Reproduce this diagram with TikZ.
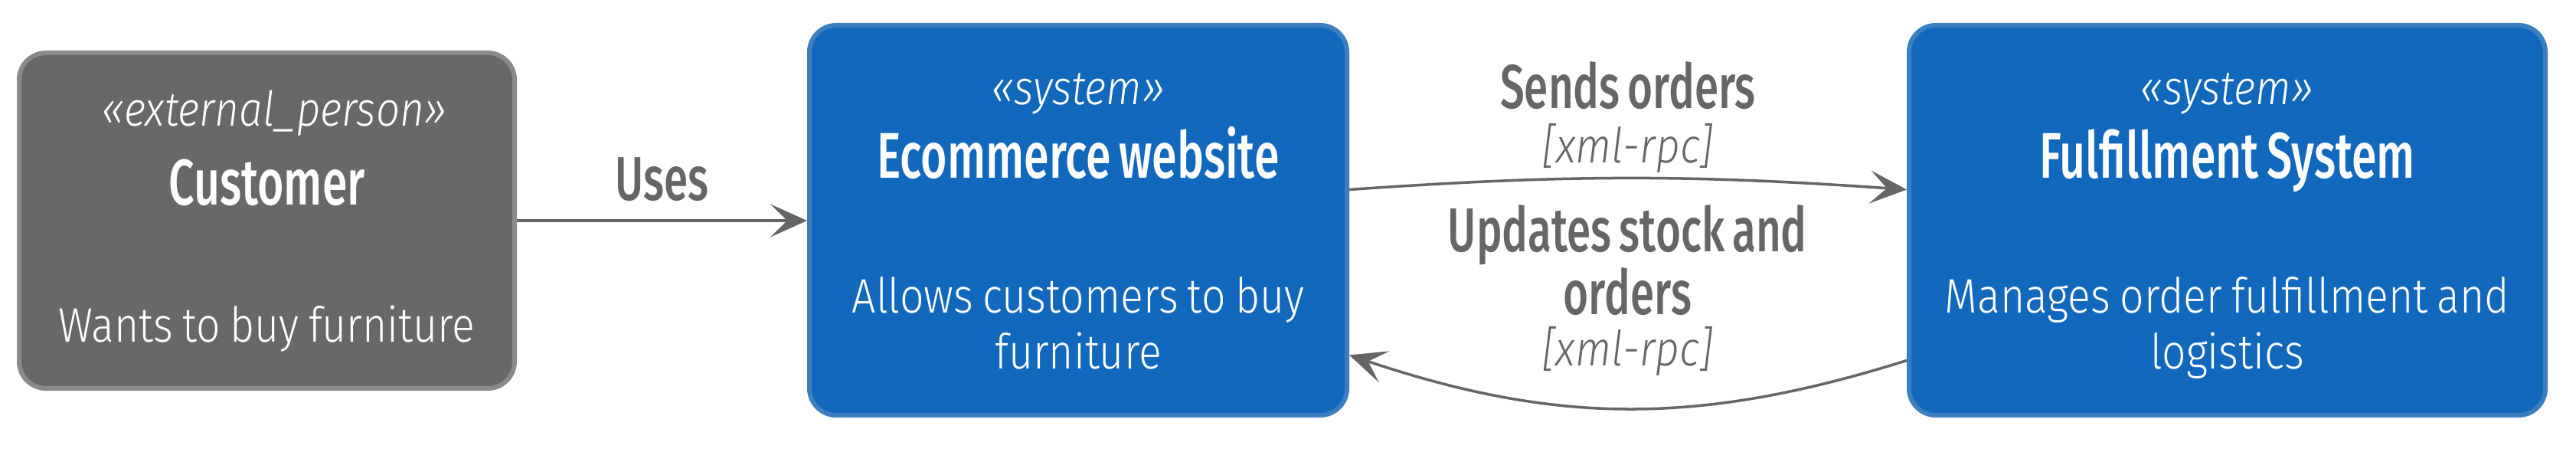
\documentclass[tikz,border=0pt]{standalone}
\usepackage{fontspec}
\setmainfont{Fira Sans}[UprightFont=* Light, ItalicFont=* Light Italic, BoldFont=* Medium, FakeStretch=0.875, WordSpace=0.8]
\newfontfamily\titlefont{Fira Sans}[UprightFont=* Medium, FakeStretch=0.70, WordSpace=0.7]
\usetikzlibrary{arrows.meta,positioning}

\definecolor{personbg}{HTML}{686868}
\definecolor{personline}{HTML}{8A8A8A}
\definecolor{systembg}{HTML}{1168BD}
\definecolor{systemline}{HTML}{3C7FC0}
\definecolor{relgray}{HTML}{666666}

\tikzset{
  personbox/.style={draw=personline, fill=personbg, line width=0.06cm, rounded corners=0.35cm, minimum height=4.38cm},
  systembox/.style={draw=systemline, fill=systembg, line width=0.06cm, rounded corners=0.35cm, minimum height=5.09cm},
  stereo/.style={text=white, anchor=base, inner sep=0pt, font=\fontsize{17.8}{20}\selectfont\itshape},
  boxtitle/.style={text=white, anchor=base, inner sep=0pt, font=\titlefont\fontsize{24}{28}\selectfont},
  boxdesc/.style={text=white, anchor=base, inner sep=0pt, text width=8cm, align=flush center, font=\fontsize{18}{20.5}\selectfont},
  edgelabel/.style={text=relgray, anchor=base, inner sep=0pt, font=\titlefont\fontsize{23}{21.3}\selectfont},
  techlabel/.style={text=relgray, anchor=base, inner sep=0pt, font=\fontsize{18}{20.5}\selectfont\itshape},
  rel/.style={draw=relgray, line width=1pt, -{Stealth[length=0.48cm, width=0.43cm, inset=0.22cm]}}
}

\begin{document}
\begin{tikzpicture}
\useasboundingbox (0,0) rectangle (33.64,5.89);

% boxes
\node[personbox, minimum width=6.47cm] (customer) at (3.485,3.01) {};
\node[systembox, minimum width=7.02cm] (ecommerce) at (14.08,3.015) {};
\node[systembox, minimum width=8.31cm] (fulfillment) at (29.085,3.015) {};

% customer
\node[stereo] (customerst) at ([xshift=0.1cm,yshift=-0.99cm]customer.north) {«external\_person»};
\node[boxtitle] (customertl) at ([yshift=-2.02cm]customer.north) {Customer};
\node[boxdesc] (customerds) at ([yshift=-3.81cm]customer.north) {Wants to buy furniture};

% ecommerce website
\node[stereo] (ecommercest) at ([yshift=-1.07cm]ecommerce.north) {«system»};
\node[boxtitle] (ecommercetl) at ([yshift=-2.03cm]ecommerce.north) {Ecommerce website};
\node[boxdesc] (ecommerceds) at ([yshift=-3.79cm]ecommerce.north) {Allows customers to buy\\furniture};

% fulfillment system
\node[stereo] (fulfillmentst) at ([yshift=-1.07cm]fulfillment.north) {«system»};
\node[boxtitle] (fulfillmenttl) at ([yshift=-2.03cm]fulfillment.north) {Fulfillment System};
\node[boxdesc] (fulfillmentds) at ([yshift=-3.79cm]fulfillment.north) {Manages order fulfillment and\\logistics};

% relations
\draw[rel] (customer.east) -- node[edgelabel, midway, yshift=0.26cm] (useslbl) {Uses} (customer.east -| ecommerce.west);
\draw[rel] ([yshift=0.4cm]ecommerce.east) to[bend left=4]
  node[techlabel, midway, yshift=0.2cm] (sendproto) {[xml-rpc]} ([yshift=0.4cm]fulfillment.west);
\draw[rel] ([yshift=-1.83cm]fulfillment.west) to[bend left=18]
  node[techlabel, midway, yshift=0.56cm] (updproto) {[xml-rpc]} ([yshift=-1.76cm]ecommerce.east);

\node[edgelabel] (sendlbl) at ([yshift=0.71cm]sendproto.base) {Sends orders};
\node[edgelabel, text width=6cm, align=flush center] (updlbl) at ([yshift=1.49cm]updproto.base) {Updates stock and\\orders};
\end{tikzpicture}
\end{document}
